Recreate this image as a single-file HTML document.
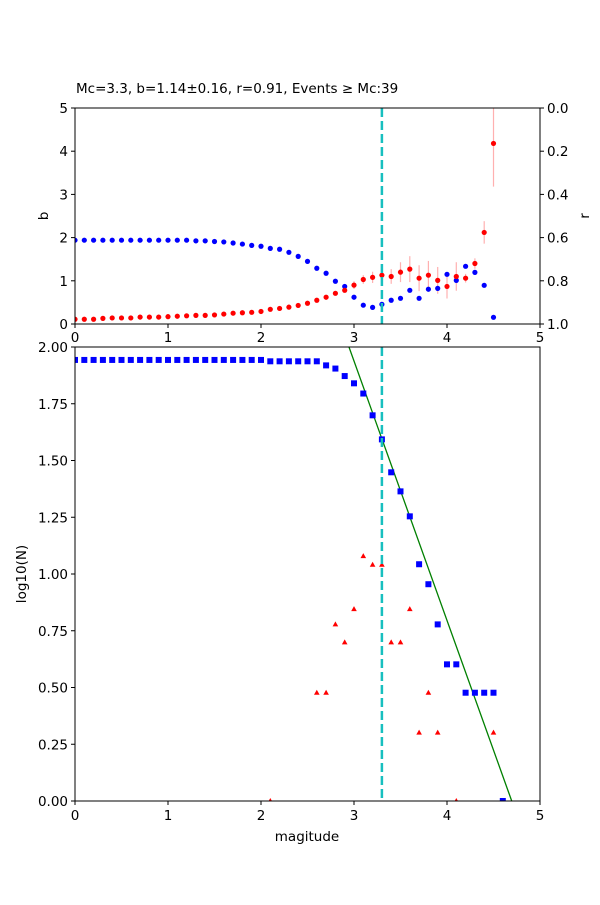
<!DOCTYPE html>
<html><head><meta charset="utf-8"><style>
html,body{margin:0;padding:0;background:#fff;}
svg text{font-family:"DejaVu Sans","Liberation Sans",sans-serif;font-size:13.5px;fill:#000;}
</style></head><body>
<svg id="s" width="600" height="900" xmlns="http://www.w3.org/2000/svg">
<rect width="600" height="900" fill="#fff"/>
<text x="76" y="93">Mc=3.3, b=1.14±0.16, r=0.91, Events ≥ Mc:39</text>
<g id="g"></g>
</svg>
<script>
var g=document.getElementById('g');var h='';
function X(m){return 75+m*93;}
var T0=108,T1=324;function Yb(b){return T1-b*43.2;}function Yr(r){return T0+r*216;}
var B0=347,B1=801;function YL(v){return B1-v*227;}
var mags=[];for(var i=0;i<=46;i++)mags.push(i/10);
var rv=[0.612,0.612,0.612,0.612,0.612,0.612,0.612,0.612,0.612,0.612,0.612,0.612,0.612,0.615,0.615,0.618,0.62,0.625,0.63,0.636,0.640,0.650,0.654,0.668,0.687,0.710,0.742,0.765,0.802,0.826,0.876,0.913,0.923,0.909,0.890,0.881,0.844,0.881,0.839,0.835,0.770,0.798,0.733,0.761,0.821,0.969];
var bv=[0.11,0.11,0.11,0.13,0.14,0.14,0.14,0.16,0.16,0.16,0.17,0.18,0.19,0.20,0.20,0.21,0.23,0.25,0.26,0.27,0.29,0.34,0.36,0.39,0.43,0.48,0.55,0.62,0.71,0.78,0.90,1.03,1.08,1.13,1.10,1.20,1.27,1.06,1.13,1.01,0.87,1.10,1.06,1.40,2.12,4.18];
var be=[];for(var i=0;i<46;i++){be.push(i<30?Math.max(0.01,bv[i]*0.05):0);}
var eo={30:0.09,31:0.1,32:0.13,33:0.15,34:0.17,35:0.23,36:0.3,37:0.3,38:0.33,39:0.31,40:0.28,41:0.33,42:0.1,43:0.12,44:0.26,45:1.0};
for(var k in eo)be[k]=eo[k];
h+='<defs><clipPath id="ct"><rect x="75" y="108" width="465" height="216"/></clipPath><clipPath id="cb"><rect x="75" y="347" width="465" height="454"/></clipPath></defs>';
h+='<g clip-path="url(#ct)">';
for(var i=0;i<46;i++){var x=X(mags[i]);h+='<line x1="'+x+'" x2="'+x+'" y1="'+Yb(bv[i]-be[i])+'" y2="'+Yb(bv[i]+be[i])+'" stroke="#ffb0b0" stroke-width="1.2"/>';}
for(var i=0;i<46;i++)h+='<circle cx="'+X(mags[i])+'" cy="'+Yr(rv[i])+'" r="2.6" fill="#0000ff"/>';
for(var i=0;i<46;i++)h+='<circle cx="'+X(mags[i])+'" cy="'+Yb(bv[i])+'" r="2.6" fill="#ff0000"/>';
h+='<line x1="'+X(3.3)+'" x2="'+X(3.3)+'" y1="108" y2="324" stroke="#17bfbf" stroke-width="2.5" stroke-dasharray="9,4"/>';
h+='</g>';
h+='<rect x="75" y="108" width="465" height="216" fill="none" stroke="#000" stroke-width="1"/>';
for(var t=0;t<=5;t++){var x=X(t);h+='<line x1="'+x+'" x2="'+x+'" y1="324" y2="328" stroke="#000"/><text x="'+x+'" y="342" text-anchor="middle">'+t+'</text>';
var y=Yb(t);h+='<line x1="71" x2="75" y1="'+y+'" y2="'+y+'" stroke="#000"/><text x="68" y="'+(y+5)+'" text-anchor="end">'+t+'</text>';}
for(var t=0;t<=5;t++){var r=t*0.2;var y=Yr(r);h+='<line x1="540" x2="544" y1="'+y+'" y2="'+y+'" stroke="#000"/><text x="547" y="'+(y+5)+'">'+r.toFixed(1)+'</text>';}
h+='<text transform="translate(48,216) rotate(-90)" text-anchor="middle">b</text>';
h+='<text transform="translate(589,216) rotate(-90)" text-anchor="middle">r</text>';
var tail=[1.919,1.905,1.872,1.84,1.795,1.699,1.593,1.448,1.364,1.254,1.043,0.955,0.778,0.602,0.602,0.477,0.477,0.477,0.477,0];
var cum=[];for(var i=0;i<=46;i++){var v;if(i<=20)v=1.943;else if(i<=26)v=1.937;else v=tail[i-27];cum.push(v);}
var tri={21:0,26:0.477,27:0.477,28:0.778,29:0.699,30:0.845,31:1.079,32:1.041,33:1.041,34:0.699,35:0.699,36:0.845,37:0.301,38:0.477,39:0.301,41:0,45:0.301};
h+='<g clip-path="url(#cb)">';
h+='<line x1="'+X(2.946)+'" y1="'+YL(2)+'" x2="'+X(4.696)+'" y2="'+YL(0)+'" stroke="#008000" stroke-width="1.3"/>';
for(var i=0;i<=46;i++){var x=X(mags[i]),y=YL(cum[i]);h+='<rect x="'+(x-3)+'" y="'+(y-3)+'" width="6" height="6" fill="#0000ff"/>';}
for(var k in tri){var x=X(k/10),y=YL(tri[k]);h+='<polygon points="'+x+','+(y-3)+' '+(x-2.8)+','+(y+2)+' '+(x+2.8)+','+(y+2)+'" fill="#ff0000"/>';}
h+='<line x1="'+X(3.3)+'" x2="'+X(3.3)+'" y1="347" y2="801" stroke="#17bfbf" stroke-width="2.5" stroke-dasharray="9,4"/>';
h+='</g>';
h+='<rect x="75" y="347" width="465" height="454" fill="none" stroke="#000" stroke-width="1"/>';
for(var t=0;t<=5;t++){var x=X(t);h+='<line x1="'+x+'" x2="'+x+'" y1="801" y2="805" stroke="#000"/><text x="'+x+'" y="820" text-anchor="middle">'+t+'</text>';}
for(var t=0;t<=8;t++){var v=t*0.25;var y=YL(v);h+='<line x1="71" x2="75" y1="'+y+'" y2="'+y+'" stroke="#000"/><text x="68" y="'+(y+5)+'" text-anchor="end">'+v.toFixed(2)+'</text>';}
h+='<text x="307" y="841" text-anchor="middle">magitude</text>';
h+='<text transform="translate(26,574) rotate(-90)" text-anchor="middle">log10(N)</text>';
g.innerHTML=h;
</script>
</body></html>
